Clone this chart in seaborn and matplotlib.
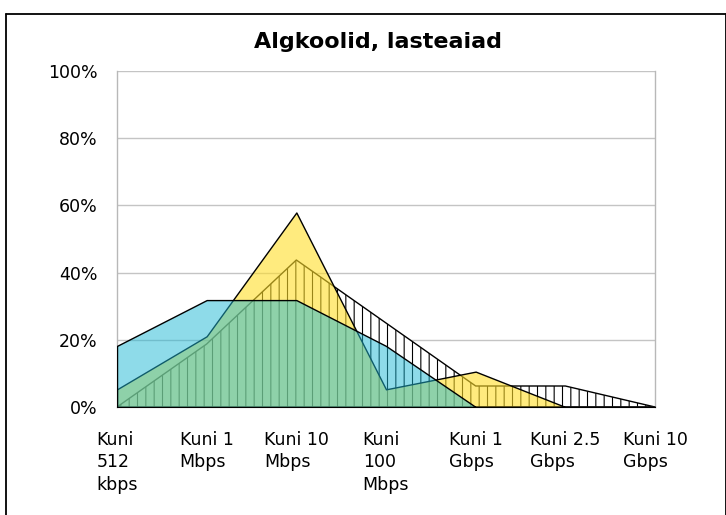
import numpy as np
import pandas as pd
import matplotlib
matplotlib.use('Agg')
import matplotlib.pyplot as plt
import seaborn as sns
from matplotlib.ticker import PercentFormatter
from matplotlib.lines import Line2D

# data (share of schools per connection speed, %)
categories = ['Kuni\n512\nkbps', 'Kuni 1\nMbps', 'Kuni 10\nMbps', 'Kuni\n100\nMbps',
              'Kuni 1\nGbps', 'Kuni 2.5\nGbps', 'Kuni 10\nGbps']
hatched_vals = [0, 18.75, 43.75, 25.0, 6.25, 6.25, 0]
yellow_vals = [5.26, 21.05, 57.89, 5.26, 10.53, 0, 0]
cyan_vals = [18.18, 31.82, 31.82, 18.18, 0, 0, 0]
y_ticks = [0, 20, 40, 60, 80, 100]

df = pd.DataFrame({'pos': np.arange(len(categories)),
                   'hatched': hatched_vals,
                   'yellow': yellow_vals,
                   'cyan': cyan_vals})

sns.set_theme(style='white')
plt.rcParams['font.family'] = ['DejaVu Sans']
plt.rcParams['hatch.linewidth'] = 0.8
plt.rcParams['text.color'] = 'black'

fig = plt.figure(figsize=(7.26, 5.15), dpi=100)
ax = fig.add_axes([117 / 726, 108 / 515, 538 / 726, 336 / 515])

grey = '#b8b8b8'
ax.set_axisbelow(True)
ax.grid(axis='y', color='#c4c4c4', linewidth=1.0)

# hatched series at the bottom, then yellow, then cyan (semi-transparent)
ax.fill_between(df['pos'], 0, df['hatched'], facecolor='white', edgecolor='black',
                hatch='||', linewidth=1.0, zorder=2)
ax.fill_between(df['pos'], 0, df['yellow'], facecolor=(1.0, 0.87, 0.16, 0.6),
                edgecolor='black', linewidth=1.0, zorder=3)
ax.fill_between(df['pos'], 0, df['cyan'], facecolor=(0.12, 0.72, 0.835, 0.5),
                edgecolor='black', linewidth=1.0, zorder=4)

ax.set_xlim(0, len(categories) - 1)
ax.set_ylim(0, 100)
ax.set_yticks(y_ticks)
ax.yaxis.set_major_formatter(PercentFormatter(decimals=0))
ax.set_xticks(df['pos'])
ax.set_xticklabels(categories, ha='center', multialignment='left', linespacing=1.32)

ax.tick_params(axis='both', labelsize=12.5, colors='black', direction='out')
ax.tick_params(axis='y', length=7.2, width=1.0, color=grey, pad=7)
ax.tick_params(axis='x', length=8, width=1.0, color=grey, pad=9)

for side in ['left', 'right', 'bottom']:
    ax.spines[side].set_color(grey)
    ax.spines[side].set_linewidth(1.0)
ax.spines['top'].set_visible(False)

fig.text(0.521, 0.906, 'Algkoolid, lasteaiad', ha='center', va='baseline',
         fontsize=16, fontweight='bold', color='black')

# outer chart border (bottom edge is cut off in the reference)
x0, x1 = 5.5 / 726, 725.5 / 726
y0, y1 = 0.0, (515 - 13.5) / 515
for xs, ys in [([x0, x1], [y1, y1]), ([x0, x0], [y0, y1]), ([x1, x1], [y0, y1])]:
    fig.add_artist(Line2D(xs, ys, color='black', linewidth=1.3, transform=fig.transFigure))

fig.savefig('out.png', dpi=100)
